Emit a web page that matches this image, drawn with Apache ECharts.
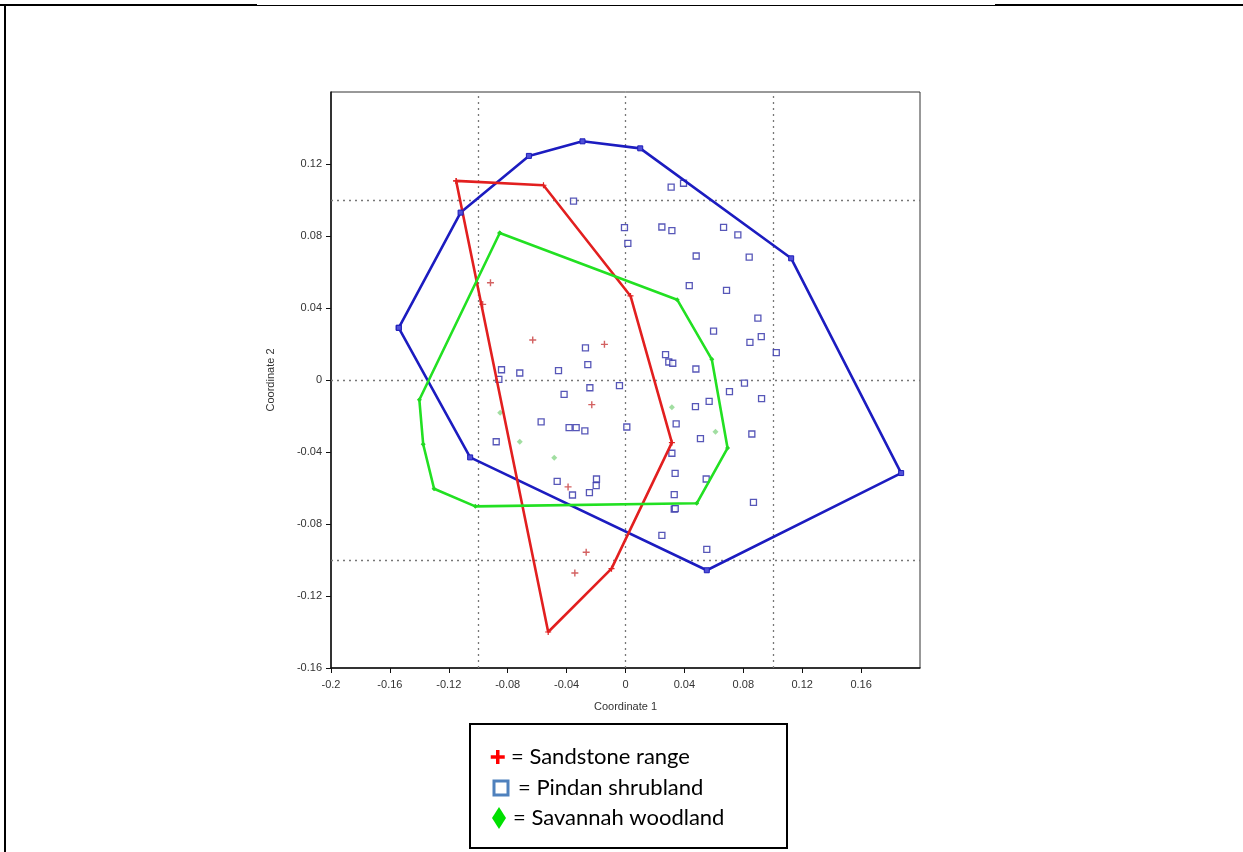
<!DOCTYPE html>
<html>
<head>
<meta charset="utf-8">
<script src="https://cdn.jsdelivr.net/npm/echarts@6/dist/echarts.min.js"></script>
<style>
html,body{margin:0;padding:0;background:#fff;}
#chart{width:1243px;height:852px;}
</style>
</head>
<body>
<div id="chart"></div>
<script>
// ---- data ----
const sandstoneHull = [[-0.115,0.1106],[-0.0557,0.1082],[0.0034,0.0467],[0.0315,-0.0348],[-0.0095,-0.1048],[-0.0525,-0.14],[-0.115,0.1106]];
const sandstonePoints = [[-0.0917,0.054],[-0.097,0.042],[-0.063,0.0222],[-0.0143,0.0198],[-0.0229,-0.0137],[-0.039,-0.0594],[-0.0267,-0.0957],[-0.0344,-0.1072]];

const pindanHull = [[-0.154,0.029],[-0.112,0.093],[-0.0656,0.1245],[-0.0292,0.1326],[0.010,0.1287],[0.1125,0.0676],[0.1872,-0.0517],[0.0552,-0.1057],[-0.1055,-0.043],[-0.154,0.029]];
const pindanPoints = [
  [-0.0353,0.0994],[-0.0007,0.0846],[0.0016,0.0759],[-0.0272,0.0178],[-0.0256,0.0085],
  [-0.0842,0.0057],[-0.0718,0.0039],[-0.0455,0.0052],[-0.086,0.0004],
  [0.031,0.1072],[0.0394,0.1093],[0.0247,0.085],[0.0315,0.083],[0.0666,0.0848],[0.0763,0.0806],
  [0.048,0.0689],[0.084,0.0683],[0.0433,0.0524],[0.0686,0.0498],[0.0899,0.0344],[0.0598,0.0272],
  [0.0922,0.0241],[0.0845,0.0209],[0.1024,0.0152],[0.0272,0.0141],[0.0294,0.01],[0.0321,0.0093],[0.0478,0.0061],
  [-0.0242,-0.0043],[-0.0041,-0.0031],[-0.0417,-0.008],[-0.0573,-0.0233],[-0.0878,-0.0343],
  [-0.0383,-0.0265],[-0.0335,-0.0265],[-0.0276,-0.0283],[0.0009,-0.0261],[-0.0464,-0.0563],
  [-0.0197,-0.055],[-0.0199,-0.0587],[-0.036,-0.0639],[-0.0245,-0.0626],
  [0.0808,-0.0017],[0.0706,-0.0065],[0.0924,-0.0104],[0.0568,-0.0119],[0.0475,-0.0148],
  [0.0344,-0.0244],[0.0509,-0.0326],[0.0858,-0.03],[0.0315,-0.0407],[0.0337,-0.0519],
  [0.0548,-0.055],[0.0331,-0.0637],[0.0869,-0.068],[0.0331,-0.0717],[0.0338,-0.0715],
  [0.0247,-0.0863],[0.0552,-0.0941]
];

const savannahHull = [[-0.0854,0.0817],[0.0351,0.0446],[0.0586,0.0115],[0.0693,-0.0378],[0.0484,-0.0685],[-0.102,-0.0702],[-0.130,-0.0604],[-0.1374,-0.0357],[-0.140,-0.011],[-0.0854,0.0817]];
const savannahPoints = [[-0.0851,-0.0182],[-0.0718,-0.0343],[-0.0484,-0.0432],[0.0315,-0.0152],[0.0611,-0.0287]];

const refLinesX = [-0.1, 0, 0.1];
const refLinesY = [0.1, 0, -0.1];

const xRange = [-0.2, 0.2];
const yRange = [-0.16, 0.16];
const tickStep = 0.04;
const xTicks = [-0.2, -0.16, -0.12, -0.08, -0.04, 0, 0.04, 0.08, 0.12, 0.16];
const yTicks = [-0.16, -0.12, -0.08, -0.04, 0, 0.04, 0.08, 0.12];

const legendLabels = ['= Sandstone range', '= Pindan shrubland', '= Savannah woodland'];
const axisNames = ['Coordinate 1', 'Coordinate 2'];

// ---- chart ----
const chart = echarts.init(document.getElementById('chart'), null, {renderer: 'canvas'});
const fmt = v => String(parseFloat(Number(v).toFixed(2)));
const plusPath = 'path://M4,0H6V4H10V6H6V10H4V6H0V4H4Z';
const axisFont = {fontFamily: 'Liberation Sans', fontSize: 11, color: '#333'};

const markLines = refLinesX.map(v => ({xAxis: v})).concat(refLinesY.map(v => ({yAxis: v})));

const option = {
  animation: false,
  backgroundColor: '#fff',
  grid: {left: 331, top: 92, width: 589, height: 576, show: true, borderColor: '#333', borderWidth: 1, backgroundColor: 'transparent'},
  xAxis: {
    type: 'value', min: xRange[0], max: xRange[1], interval: tickStep,
    name: axisNames[0], nameLocation: 'middle', nameGap: 33,
    nameTextStyle: {fontFamily: 'Liberation Sans', fontSize: 11, color: '#333'},
    axisLine: {show: true, onZero: false, lineStyle: {color: '#111', width: 1.5}},
    axisTick: {show: true, inside: false, length: 5, customValues: xTicks, lineStyle: {color: '#111', width: 1}},
    axisLabel: Object.assign({margin: 11, customValues: xTicks, formatter: fmt}, axisFont),
    splitLine: {show: false}
  },
  yAxis: {
    type: 'value', min: yRange[0], max: yRange[1], interval: tickStep,
    name: axisNames[1], nameLocation: 'middle', nameGap: 55, nameRotate: 90,
    nameTextStyle: {fontFamily: 'Liberation Sans', fontSize: 11, color: '#333'},
    axisLine: {show: true, onZero: false, lineStyle: {color: '#111', width: 1.5}},
    axisTick: {show: true, inside: false, length: 5, customValues: yTicks, lineStyle: {color: '#111', width: 1}},
    axisLabel: Object.assign({margin: 9, customValues: yTicks, formatter: fmt}, axisFont),
    splitLine: {show: false}
  },
  series: [
    {
      type: 'scatter', data: pindanPoints, symbol: 'rect', symbolSize: 6,
      itemStyle: {color: '#fff', borderColor: '#2d2da6', borderWidth: 1.3}, z: 3,
      markLine: {
        silent: true, symbol: 'none', label: {show: false},
        lineStyle: {type: [2, 4], color: '#777', width: 1.3},
        data: markLines, z: 1
      }
    },
    {
      type: 'scatter', data: sandstonePoints, symbol: plusPath, symbolSize: 7,
      itemStyle: {color: '#c83a3a'}, z: 3
    },
    {
      type: 'scatter', data: savannahPoints, symbol: 'diamond', symbolSize: 6,
      itemStyle: {color: '#8ad68a'}, z: 3
    },
    {
      type: 'line', data: pindanHull, symbol: 'rect', symbolSize: 5, showSymbol: true,
      itemStyle: {color: '#5050d8', borderColor: '#1c1cb8', borderWidth: 1},
      lineStyle: {color: '#1c1cc0', width: 2.6}, z: 4
    },
    {
      type: 'line', data: sandstoneHull, symbol: plusPath, symbolSize: 6, showSymbol: true,
      itemStyle: {color: '#e02020'},
      lineStyle: {color: '#e21f1f', width: 2.6}, z: 4
    },
    {
      type: 'line', data: savannahHull, symbol: 'diamond', symbolSize: 5, showSymbol: true,
      itemStyle: {color: '#22d822'},
      lineStyle: {color: '#22e022', width: 2.6}, z: 4
    }
  ],
  graphic: [
    // page frame
    {type: 'line', shape: {x1: 0, y1: 5, x2: 257, y2: 5}, style: {stroke: '#000', lineWidth: 2}},
    {type: 'line', shape: {x1: 257, y1: 5.5, x2: 995, y2: 5.5}, style: {stroke: '#000', lineWidth: 1}},
    {type: 'line', shape: {x1: 995, y1: 5, x2: 1243, y2: 5}, style: {stroke: '#000', lineWidth: 2}},
    {type: 'line', shape: {x1: 5, y1: 4, x2: 5, y2: 852}, style: {stroke: '#000', lineWidth: 2}},
    // legend box
    {type: 'rect', shape: {x: 470, y: 724, width: 317, height: 124}, style: {fill: '#fff', stroke: '#000', lineWidth: 2}},
    // legend symbols
    {type: 'rect', shape: {x: 496, y: 750, width: 3.5, height: 14}, style: {fill: '#ff0000'}},
    {type: 'rect', shape: {x: 490.75, y: 755.25, width: 14, height: 3.5}, style: {fill: '#ff0000'}},
    {type: 'rect', shape: {x: 494, y: 781, width: 14, height: 14}, style: {fill: '#fff', stroke: '#4f81bd', lineWidth: 3}},
    {type: 'polygon', shape: {points: [[499, 807], [506, 818], [499, 829], [492, 818]]}, style: {fill: '#00e000'}},
    // legend texts
    {type: 'text', x: 511, y: 757, style: {text: legendLabels[0], font: '22px Lato', fill: '#000', verticalAlign: 'middle'}},
    {type: 'text', x: 518, y: 788, style: {text: legendLabels[1], font: '22px Lato', fill: '#000', verticalAlign: 'middle'}},
    {type: 'text', x: 513, y: 818, style: {text: legendLabels[2], font: '22px Lato', fill: '#000', verticalAlign: 'middle'}}
  ]
};
chart.setOption(option);
</script>
</body>
</html>
